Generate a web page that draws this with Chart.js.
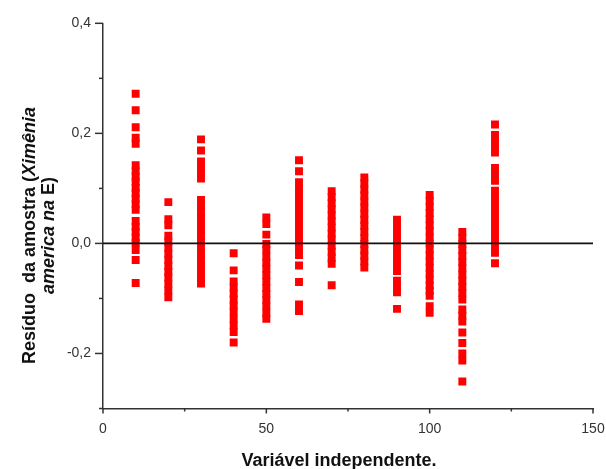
<!DOCTYPE html>
<html>
<head>
<meta charset="utf-8">
<script src="https://cdn.jsdelivr.net/npm/chart.js@4.4.1/dist/chart.umd.min.js"></script>
<style>
html,body{margin:0;padding:0;background:#fff;}
#wrap{width:606px;height:469px;position:relative;}
</style>
</head>
<body>
<div id="wrap"><canvas id="c" width="606" height="469"></canvas></div>
<script>
// ---- data ----
const xCategories = [10, 20, 30, 40, 50, 60, 70, 80, 90, 100, 110, 120];
const res10 = [0.272, 0.242, 0.211, 0.192, 0.181, 0.142, 0.131, 0.121, 0.112, 0.101, 0.092, 0.081, 0.071, 0.061, 0.041, 0.030, 0.021, 0.010, 0.001, -0.012, -0.030, -0.072];
const res20 = [0.075, 0.044, 0.033, 0.014, 0.003, -0.008, -0.019, -0.030, -0.041, -0.052, -0.062, -0.074, -0.086, -0.098];
const res30 = [0.189, 0.169, 0.149, 0.138, 0.128, 0.118, 0.079, 0.068, 0.057, 0.046, 0.035, 0.024, 0.013, 0.002, -0.009, -0.020, -0.031, -0.041, -0.052, -0.062, -0.073];
const res40 = [-0.018, -0.049, -0.069, -0.080, -0.091, -0.102, -0.113, -0.124, -0.137, -0.149, -0.161, -0.180];
const res50 = [0.047, 0.035, 0.016, -0.001, -0.012, -0.024, -0.035, -0.046, -0.058, -0.069, -0.081, -0.092, -0.103, -0.114, -0.126, -0.137];
const res60 = [0.151, 0.131, 0.111, 0.100, 0.089, 0.078, 0.067, 0.056, 0.045, 0.034, 0.023, 0.012, 0.001, -0.010, -0.021, -0.040, -0.070, -0.111, -0.123];
const res70 = [0.095, 0.084, 0.073, 0.062, 0.051, 0.040, 0.029, 0.018, 0.007, -0.004, -0.015, -0.026, -0.037, -0.076];
const res80 = [0.120, 0.109, 0.098, 0.087, 0.076, 0.065, 0.054, 0.043, 0.032, 0.021, 0.010, -0.001, -0.012, -0.022, -0.033, -0.044];
const res90 = [0.043, 0.032, 0.021, 0.010, -0.001, -0.012, -0.024, -0.036, -0.050, -0.068, -0.079, -0.089, -0.119];
const res100 = [0.088, 0.077, 0.066, 0.055, 0.044, 0.033, 0.022, 0.011, 0.000, -0.011, -0.022, -0.033, -0.044, -0.055, -0.066, -0.077, -0.086, -0.095, -0.114, -0.126];
const res110 = [0.021, 0.010, -0.001, -0.012, -0.023, -0.034, -0.045, -0.057, -0.068, -0.079, -0.090, -0.102, -0.120, -0.131, -0.142, -0.162, -0.181, -0.200, -0.213, -0.251];
const res120 = [0.216, 0.197, 0.186, 0.176, 0.165, 0.137, 0.126, 0.114, 0.096, 0.085, 0.074, 0.063, 0.052, 0.041, 0.030, 0.019, 0.008, -0.003, -0.017, -0.036];
const residualColumns = [res10, res20, res30, res40, res50, res60, res70, res80, res90, res100, res110, res120];

const xMajorTicks = [0, 50, 100, 150];
const xMinorTicks = [25, 75, 125];
const yMajorTicks = [-0.2, 0.0, 0.2, 0.4];
const yMinorTicks = [-0.3, -0.1, 0.1, 0.3];
const xTitle = 'Variável independente.';

// ---- build library data ----
const points = [];
xCategories.forEach((xv, i) => residualColumns[i].forEach(v => points.push({x: xv, y: v})));

const FONT = "'Liberation Sans', Arial, Helvetica, sans-serif";
const AXIS_COLOR = '#333';

const decorPlugin = {
  id: 'decor',
  afterDraw(chart) {
    const ctx = chart.ctx, ca = chart.chartArea;
    const xs = chart.scales.x, ys = chart.scales.y;
    ctx.save();
    ctx.strokeStyle = AXIS_COLOR;
    ctx.lineWidth = 1.5;
    const seg = (x1, y1, x2, y2) => { ctx.beginPath(); ctx.moveTo(x1, y1); ctx.lineTo(x2, y2); ctx.stroke(); };
    yMajorTicks.forEach(v => { const p = ys.getPixelForValue(v); seg(ca.left - 8, p, ca.left, p); });
    yMinorTicks.forEach(v => { const p = ys.getPixelForValue(v); seg(ca.left - 4, p, ca.left, p); });
    xMajorTicks.forEach(v => { const p = xs.getPixelForValue(v); seg(p, ca.bottom, p, ca.bottom + 5); });
    xMinorTicks.forEach(v => { const p = xs.getPixelForValue(v); seg(p, ca.bottom, p, ca.bottom + 3); });

    // x title
    ctx.fillStyle = '#111';
    ctx.font = 'bold 18px ' + FONT;
    ctx.textAlign = 'center';
    ctx.textBaseline = 'alphabetic';
    ctx.fillText(xTitle, 339, 465.5);

    // y title with mixed italic parts, rotated
    const lines = [
      [['Resíduo  da amostra (', false], ['Ximênia', true]],
      [['america na', true], [' E)', false]]
    ];
    const baselinesX = [34.5, 53.5];
    const cy = 235.5;
    lines.forEach((parts, li) => {
      let total = 0;
      const widths = parts.map(([t, it]) => { ctx.font = (it ? 'italic ' : '') + 'bold 18px ' + FONT; const w = ctx.measureText(t).width; total += w; return w; });
      ctx.save();
      ctx.translate(baselinesX[li], cy);
      ctx.rotate(-Math.PI / 2);
      ctx.textAlign = 'left';
      ctx.textBaseline = 'alphabetic';
      let xpos = -total / 2;
      parts.forEach(([t, it], k) => {
        ctx.font = (it ? 'italic ' : '') + 'bold 18px ' + FONT;
        ctx.fillText(t, xpos, 0);
        xpos += widths[k];
      });
      ctx.restore();
    });
    ctx.restore();
  }
};

new Chart(document.getElementById('c'), {
  type: 'scatter',
  data: {
    datasets: [
      {
        type: 'line',
        label: 'zero',
        data: [{x: 0, y: 0}, {x: 150, y: 0}],
        showLine: true,
        borderColor: '#111',
        borderWidth: 1.6,
        pointRadius: 0,
        order: 0
      },
      {
        label: 'Resíduo',
        data: points,
        pointStyle: 'rect',
        pointRadius: 5.6,
        pointBorderWidth: 0,
        borderWidth: 0,
        backgroundColor: '#ff0000',
        pointBackgroundColor: '#ff0000',
        order: 1
      }
    ]
  },
  options: {
    responsive: false,
    animation: false,
    devicePixelRatio: 1,
    layout: { padding: { left: 0, right: 13, top: 23.3, bottom: 0 } },
    plugins: { legend: { display: false }, tooltip: { enabled: false } },
    scales: {
      x: {
        type: 'linear',
        min: 0, max: 150,
        afterFit: s => { s.height = 60.5; s.paddingLeft = 0; s.paddingRight = 0; },
        afterBuildTicks: s => { s.ticks = xMajorTicks.map(v => ({value: v})); },
        ticks: { color: AXIS_COLOR, font: { family: FONT, size: 14 }, padding: 12, maxRotation: 0, callback: v => String(v) },
        grid: { display: true, drawOnChartArea: false, drawTicks: false },
        border: { display: true, color: AXIS_COLOR, width: 1.5 }
      },
      y: {
        type: 'linear',
        min: -0.3, max: 0.4,
        afterFit: s => { s.width = 103; s.paddingTop = 0; s.paddingBottom = 0; },
        afterBuildTicks: s => { s.ticks = yMajorTicks.map(v => ({value: v})); },
        ticks: { color: AXIS_COLOR, font: { family: FONT, size: 14 }, padding: 12, callback: v => v.toFixed(1).replace('.', ',') },
        grid: { display: true, drawOnChartArea: false, drawTicks: false },
        border: { display: true, color: AXIS_COLOR, width: 1.5 }
      }
    }
  },
  plugins: [decorPlugin]
});
</script>
</body>
</html>
